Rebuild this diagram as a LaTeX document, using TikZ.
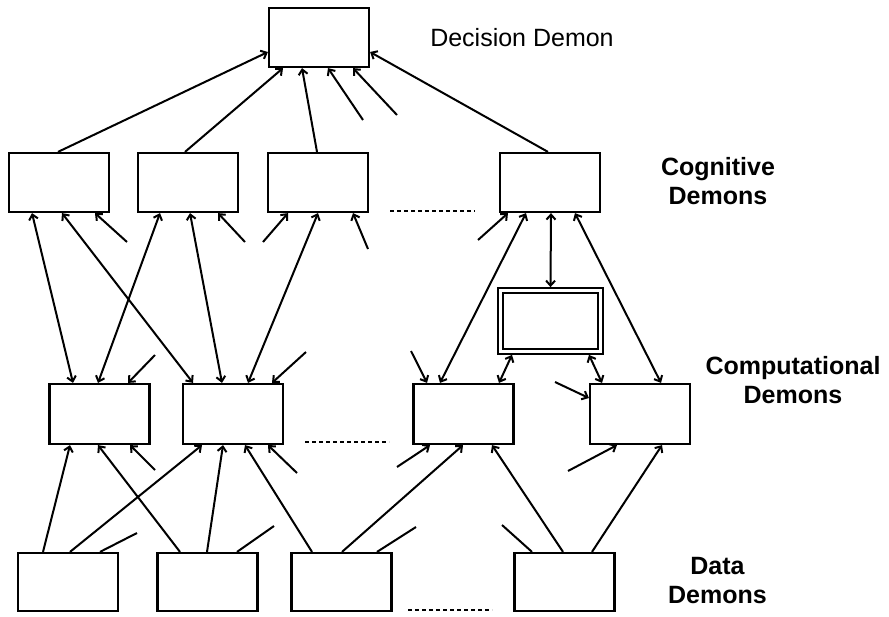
\documentclass[tikz,border=0pt]{standalone}
\usepackage{fontspec}
\setmainfont{Liberation Sans}
\usetikzlibrary{arrows.meta}

\tikzset{
  demon/.style={draw, line width=2.2pt, minimum width=100pt, minimum height=59pt, inner sep=0pt},
  memory/.style={draw, line width=1.8pt, double, double distance=3pt, minimum width=100pt, minimum height=61pt, inner sep=0pt},
  feed/.style={line width=2pt, -{Straight Barb[length=5pt,width=9pt,line width=2pt]}},
  both/.style={line width=2pt, {Straight Barb[length=5pt,width=9pt,line width=2pt]}-{Straight Barb[length=5pt,width=9pt,line width=2pt]}},
  plain/.style={line width=2pt},
  more/.style={line width=1.8pt, dash pattern=on 4pt off 3pt},
  layer/.style={align=center, font=\fontsize{25}{29}\selectfont\bfseries},
}

\begin{document}
\begin{tikzpicture}[x=1pt, y=-1pt]
\useasboundingbox (0,0) rectangle (889,616);

% ---- boxes ----
\node[demon] (dec) at (319,37.5) {};

\node[demon] (c1) at (59,182.5) {};
\node[demon] (c2) at (188,182.5) {};
\node[demon] (c3) at (318,182.5) {};
\node[demon] (c4) at (550,182.5) {};

\node[memory] (mem) at (550.5,321) {};

\node[demon, minimum height=60pt] (p1) at (99.5,414) {};
\node[demon, minimum height=60pt] (p2) at (233,414) {};
\node[demon, minimum height=60pt] (p3) at (463.5,414) {};
\node[demon, minimum height=60pt] (p4) at (640,414) {};

\node[demon, minimum height=58pt] (d1) at (68,582) {};
\node[demon, minimum height=58pt] (d2) at (207.5,582) {};
\node[demon, minimum height=58pt] (d3) at (341.5,582) {};
\node[demon, minimum height=58pt] (d4) at (564.5,582) {};

% ---- layer labels ----
\node[anchor=base, font=\fontsize{25}{29}\selectfont] (tdec) at (522,46.5) {Decision Demon};
\node[layer] (tcog) at (718,181) {Cognitive\\Demons};
\node[layer] (tcomp) at (793,380) {Computational\\Demons};
\node[layer] (tdata) at (717.5,581) {Data\\Demons};

% ---- "and so on" marks ----
\coordinate (m1a) at (390,211); \coordinate (m1b) at (475,211);
\coordinate (m2a) at (305,442); \coordinate (m2b) at (389,442);
\coordinate (m3a) at (408,610); \coordinate (m3b) at (492,610);
\draw[more] (m1a) -- (m1b);
\draw[more] (m2a) -- (m2b);
\draw[more] (m3a) -- (m3b);

% ---- loose ends of connectors ----
\coordinate (f1) at (363,120);
\coordinate (f2) at (397,115);
\coordinate (f3) at (127,242);
\coordinate (f4) at (245,242);
\coordinate (f5) at (263,242);
\coordinate (f6) at (368,249);
\coordinate (f7) at (478,240);
\coordinate (f8) at (155,355);
\coordinate (f9) at (306,352);
\coordinate (f10) at (411,351);
\coordinate (f11) at (555,382);
\coordinate (f12) at (155,470);
\coordinate (f13) at (297,473);
\coordinate (f14) at (397,467);
\coordinate (f15) at (568,471);
\coordinate (g1) at (137,533);
\coordinate (g2) at (274,526);
\coordinate (g3) at (416,527);
\coordinate (g4) at (502,525);

% ---- cognitive -> decision ----
\draw[feed] ([xshift=-1pt]c1.north) -- ([yshift=-14.5pt]dec.west);
\draw[feed] ([xshift=-3pt]c2.north) -- ([xshift=-36pt]dec.south);
\draw[feed] ([xshift=-1pt]c3.north) -- ([xshift=-17pt]dec.south);
\draw[feed] (f1) -- ([xshift=9pt]dec.south);
\draw[feed] (f2) -- ([xshift=34pt]dec.south);
\draw[feed] ([xshift=-2pt]c4.north) -- ([yshift=-14.5pt]dec.east);

% ---- computational <-> cognitive ----
\draw[both] ([xshift=-27pt]c1.south) -- ([xshift=-26.5pt]p1.north);
\draw[both] ([xshift=3pt]c1.south) -- ([xshift=-40pt]p2.north);
\draw[feed] (f3) -- ([xshift=36pt]c1.south);
\draw[both] ([xshift=-28pt]c2.south) -- ([xshift=-1.5pt]p1.north);
\draw[both] ([xshift=2pt]c2.south) -- ([xshift=-11pt]p2.north);
\draw[feed] (f4) -- ([xshift=30pt]c2.south);
\draw[feed] (f5) -- ([xshift=-30pt]c3.south);
\draw[both] (c3.south) -- ([xshift=15pt]p2.north);
\draw[feed] (f6) -- ([xshift=35pt]c3.south);
\draw[feed] (f7) -- ([xshift=-42pt]c4.south);
\draw[both] ([xshift=-24pt]c4.south) -- ([xshift=-23.5pt]p3.north);
\draw[both] ([xshift=1pt]c4.south) -- ([yshift=2.5pt]mem.north);
\draw[both] ([xshift=25pt]c4.south) -- ([xshift=21pt]p4.north);

% ---- memory <-> computational ----
\draw[both] ([xshift=-38.5pt,yshift=-2.5pt]mem.south) -- ([xshift=35.5pt]p3.north);
\draw[both] ([xshift=38.5pt,yshift=-2.5pt]mem.south) -- ([xshift=-38pt]p4.north);

% ---- other inputs to computational demons ----
\draw[feed] (f8) -- ([xshift=28.5pt]p1.north);
\draw[feed] (f9) -- ([xshift=39pt]p2.north);
\draw[feed] (f10) -- ([xshift=-36.5pt]p3.north);
\draw[feed] (f11) -- ([yshift=16pt]p4.west);

% ---- data -> computational ----
\draw[feed] ([xshift=-25pt]d1.north) -- ([xshift=-29.5pt]p1.south);
\draw[feed] ([xshift=-27.5pt]d2.north) -- ([xshift=-1.5pt]p1.south);
\draw[feed] (f12) -- ([xshift=30.5pt]p1.south);
\draw[feed] ([xshift=2pt]d1.north) -- ([xshift=-31pt]p2.south);
\draw[feed] ([xshift=-0.5pt]d2.north) -- ([xshift=-10pt]p2.south);
\draw[feed] ([xshift=-29.5pt]d3.north) -- ([xshift=12pt]p2.south);
\draw[feed] (f13) -- ([xshift=35pt]p2.south);
\draw[feed] (f14) -- ([xshift=-33.5pt]p3.south);
\draw[feed] ([xshift=0.5pt]d3.north) -- ([xshift=-0.5pt]p3.south);
\draw[feed] ([xshift=-1.5pt]d4.north) -- ([xshift=28.5pt]p3.south);
\draw[feed] (f15) -- ([xshift=-23pt]p4.south);
\draw[feed] ([xshift=27.5pt]d4.north) -- ([xshift=22pt]p4.south);

% ---- outputs of data demons going elsewhere ----
\draw[plain] ([xshift=32pt]d1.north) -- (g1);
\draw[plain] ([xshift=29.5pt]d2.north) -- (g2);
\draw[plain] ([xshift=35.5pt]d3.north) -- (g3);
\draw[plain] ([xshift=-32.5pt]d4.north) -- (g4);
\end{tikzpicture}
\end{document}
